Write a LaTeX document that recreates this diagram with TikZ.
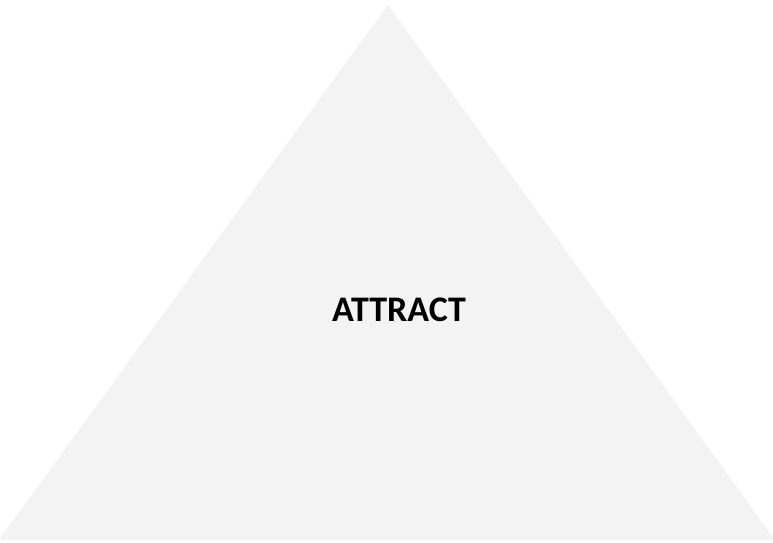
\documentclass[tikz,border=0pt]{standalone}
\usepackage{fontspec}
\setmainfont{Carlito}
\definecolor{trifill}{HTML}{F3F3F3}
\begin{document}
\begin{tikzpicture}[x=1pt,y=1pt,
  tri/.style={fill=trifill,draw=none},
  lbl/.style={font=\bfseries\fontsize{36}{40}\selectfont,text=black}]
\useasboundingbox (0,0) rectangle (773,542);
\fill[tri] (388,537) coordinate (apex) -- (775,2) coordinate (br) -- (-1,2) coordinate (bl) -- cycle;
\node[lbl] (title) at (399,232) {ATTRACT};
\end{tikzpicture}
\end{document}
